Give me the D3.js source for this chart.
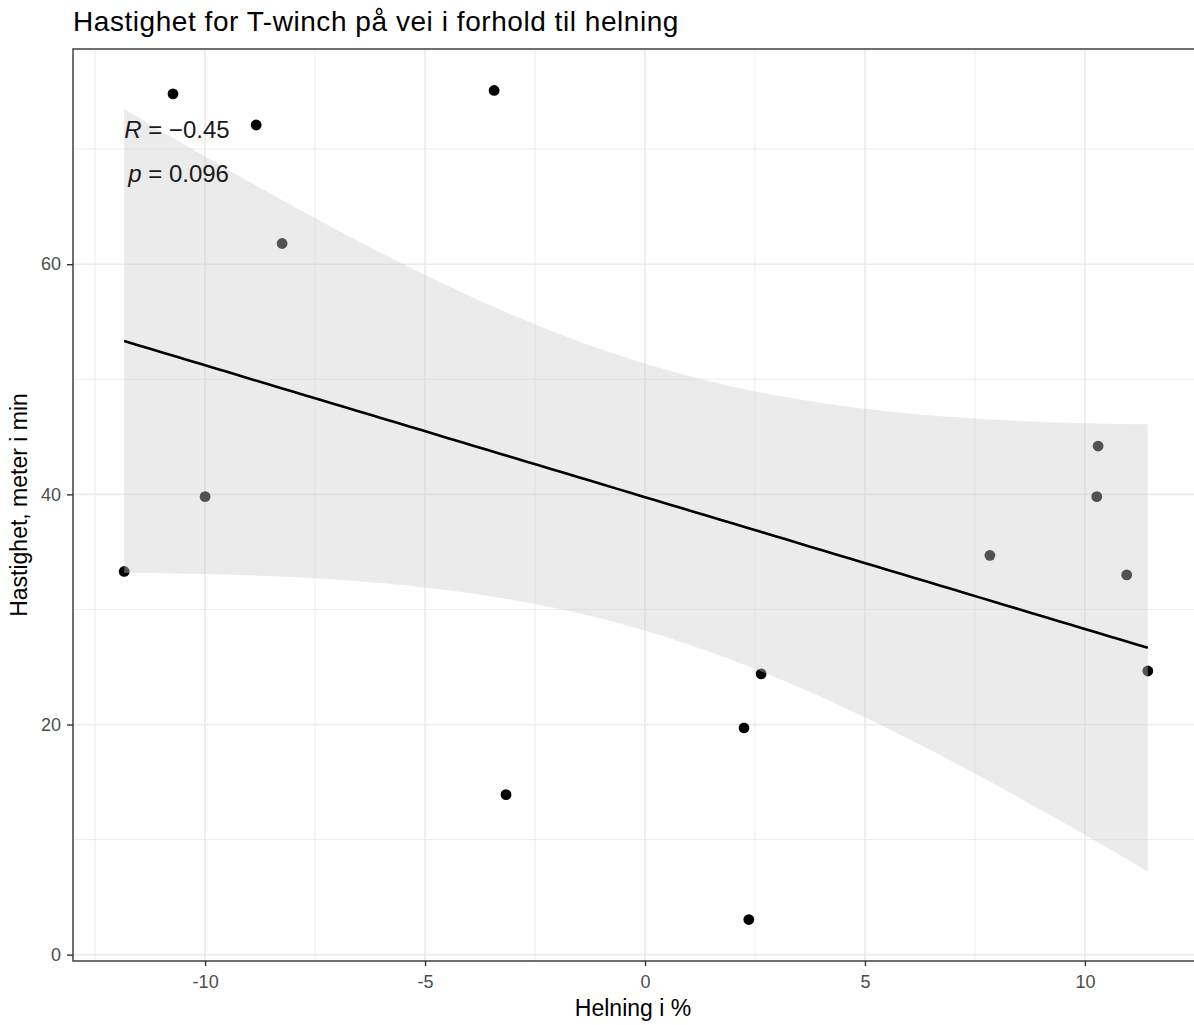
<!DOCTYPE html>
<html>
<head>
<meta charset="utf-8">
<script src="https://cdn.jsdelivr.net/npm/d3@7"></script>
<style>
  body { margin: 0; background: #fff; }
  text { font-family: Arial, "Liberation Sans", sans-serif; }
</style>
</head>
<body>
<svg id="chart" width="1194" height="1025"></svg>
<script>
// Data: slope (%) vs speed (m/min)
const helning = [-10.73, -8.84, -3.43, -8.25, -10.0, -11.84, -3.16, 2.25, 2.64, 2.36, 7.84, 10.3, 10.27, 10.95, 11.43];
const hastighet = [74.8, 72.1, 75.1, 61.8, 39.8, 33.3, 13.9, 19.7, 24.4, 3.05, 34.7, 44.2, 39.8, 33.0, 24.65];
const xTicks = [-10, -5, 0, 5, 10];
const xMinor = [-12.5, -7.5, -2.5, 2.5, 7.5, 12.5];
const yTicks = [0, 20, 40, 60];
const yMinor = [10, 30, 50, 70];
const corLabel = {r: "\u22120.45", p: "0.096"};
const tCrit = 2.160; // t(0.975, df = 13)

const svg = d3.select("#chart");
const panel = {left: 73, top: 49, right: 1199, bottom: 961};

const points = helning.map((d, i) => ({x: d, y: hastighet[i]}));

// ggplot-style 5% expansion
function expand(ext) {
    const pad = (ext[1] - ext[0]) * 0.05;
    return [ext[0] - pad, ext[1] + pad];
}

const x = d3.scaleLinear()
    .domain(expand(d3.extent(helning)))
    .range([panel.left, panel.right]);
const y = d3.scaleLinear()
    .domain(expand(d3.extent(hastighet)))
    .range([panel.bottom, panel.top]);

// linear fit with 95% confidence band, like geom_smooth(method = "lm")
const n = points.length;
const mx = d3.mean(helning), my = d3.mean(hastighet);
const sxx = d3.sum(helning, d => (d - mx) * (d - mx));
const sxy = d3.sum(points, d => (d.x - mx) * (d.y - my));
const slope = sxy / sxx, intercept = my - slope * mx;
const sse = d3.sum(points, d => Math.pow(d.y - (intercept + slope * d.x), 2));
const s = Math.sqrt(sse / (n - 2));
const [xmin, xmax] = d3.extent(helning);
const fit = d3.range(80).map(i => {
    const xv = xmin + (xmax - xmin) * i / 79;
    const yv = intercept + slope * xv;
    const se = s * Math.sqrt(1 / n + (xv - mx) * (xv - mx) / sxx);
    return {x: xv, y: yv, lo: yv - tCrit * se, hi: yv + tCrit * se};
});

// grid
const grid = svg.append("g");
grid.selectAll(".vminor").data(xMinor).join("line")
    .attr("x1", d => x(d)).attr("x2", d => x(d))
    .attr("y1", panel.top).attr("y2", panel.bottom)
    .attr("stroke", "#ebebeb").attr("stroke-width", 0.9);
grid.selectAll(".hminor").data(yMinor).join("line")
    .attr("y1", d => y(d)).attr("y2", d => y(d))
    .attr("x1", panel.left).attr("x2", panel.right)
    .attr("stroke", "#ebebeb").attr("stroke-width", 0.9);
grid.selectAll(".vmajor").data(xTicks).join("line")
    .attr("x1", d => x(d)).attr("x2", d => x(d))
    .attr("y1", panel.top).attr("y2", panel.bottom)
    .attr("stroke", "#ebebeb").attr("stroke-width", 1.6);
grid.selectAll(".hmajor").data(yTicks).join("line")
    .attr("y1", d => y(d)).attr("y2", d => y(d))
    .attr("x1", panel.left).attr("x2", panel.right)
    .attr("stroke", "#ebebeb").attr("stroke-width", 1.6);

// points
svg.append("g").selectAll("circle").data(points).join("circle")
    .attr("cx", d => x(d.x)).attr("cy", d => y(d.y))
    .attr("r", 5.4).attr("fill", "#000");

// confidence ribbon drawn over the points
svg.append("path").datum(fit)
    .attr("d", d3.area().x(d => x(d.x)).y0(d => y(d.lo)).y1(d => y(d.hi)))
    .attr("fill", "rgb(204,204,204)").attr("fill-opacity", 0.4);

// fitted line
svg.append("path").datum(fit)
    .attr("d", d3.line().x(d => x(d.x)).y(d => y(d.y)))
    .attr("fill", "none").attr("stroke", "#000").attr("stroke-width", 2.6);

// correlation label
const lab = svg.append("g").style("font-size", "24px").attr("fill", "#1a1a1a");
const t1 = lab.append("text").attr("x", x(xmin)).attr("y", 138);
t1.append("tspan").style("font-style", "italic").text("R");
t1.append("tspan").text(" = " + corLabel.r);
const t2 = lab.append("text").attr("x", x(xmin) + 4).attr("y", 182);
t2.append("tspan").style("font-style", "italic").text("p");
t2.append("tspan").text(" = " + corLabel.p);

// panel border
svg.append("rect")
    .attr("x", panel.left).attr("y", panel.top)
    .attr("width", panel.right - panel.left).attr("height", panel.bottom - panel.top)
    .attr("fill", "none").attr("stroke", "#333").attr("stroke-width", 1.4);

// axes
const xAxis = svg.append("g")
    .attr("transform", `translate(0,${panel.bottom})`)
    .call(d3.axisBottom(x).tickValues(xTicks).tickSize(5).tickPadding(9).tickFormat(d => String(d)));
const yAxis = svg.append("g")
    .attr("transform", `translate(${panel.left},0)`)
    .call(d3.axisLeft(y).tickValues(yTicks).tickSize(6).tickPadding(6).tickFormat(d => String(d)));
[xAxis, yAxis].forEach(a => {
    a.select(".domain").remove();
    a.selectAll(".tick line").attr("stroke", "#333").attr("stroke-width", 1.4);
    a.selectAll(".tick text").attr("fill", "#4d4d4d")
        .style("font-size", "18px").style("font-family", "Arial, 'Liberation Sans', sans-serif");
});

// titles
svg.append("text")
    .attr("x", panel.left).attr("y", 31)
    .style("font-size", "28px").style("letter-spacing", "0.55px").attr("fill", "#000")
    .text("Hastighet for T-winch på vei i forhold til helning");
svg.append("text")
    .attr("x", (panel.left + panel.right) / 2 - 3).attr("y", 1016)
    .attr("text-anchor", "middle")
    .style("font-size", "23px").attr("fill", "#000")
    .text("Helning i %");
svg.append("text")
    .attr("transform", `translate(27,${(panel.top + panel.bottom) / 2}) rotate(-90)`)
    .attr("text-anchor", "middle")
    .style("font-size", "23px").attr("fill", "#000")
    .text("Hastighet, meter i min");
</script>
</body>
</html>
